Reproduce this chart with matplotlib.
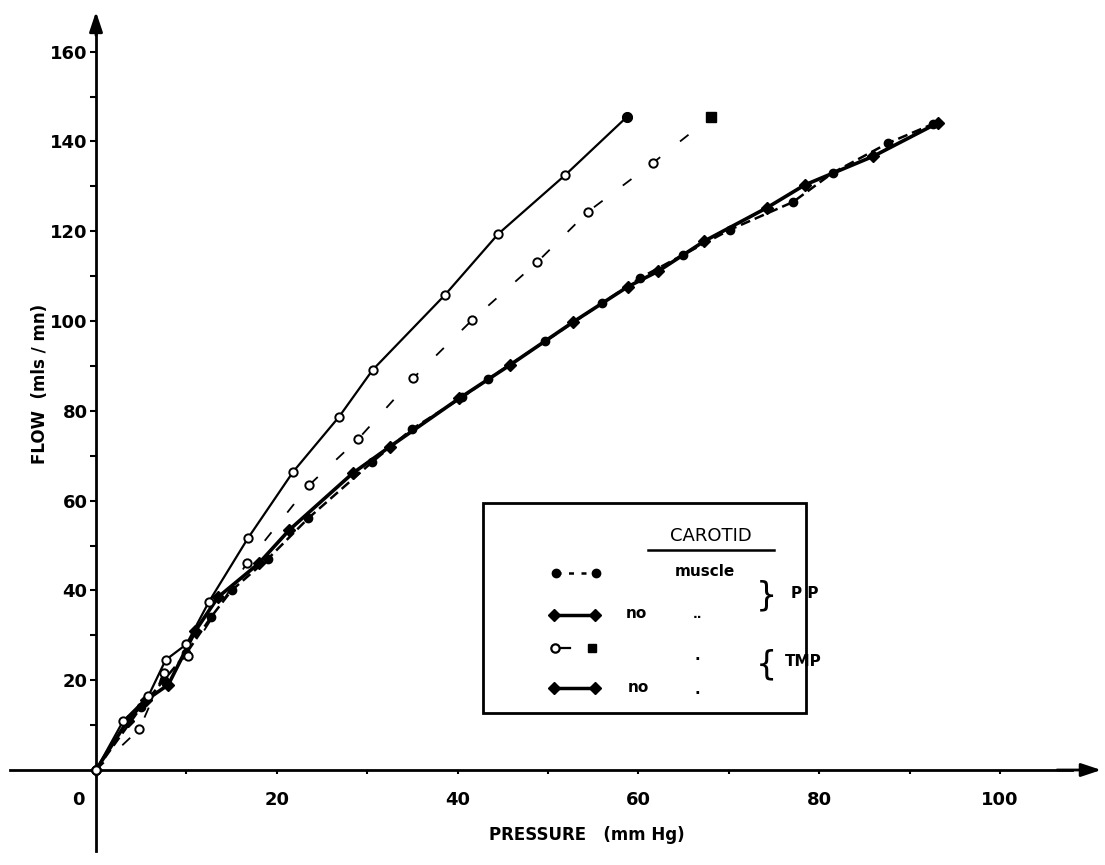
import matplotlib
matplotlib.use("Agg")
import matplotlib.pyplot as plt
from matplotlib.patches import Rectangle

# ---- data ----
# TMP, no muscle (top curve, solid, open circles)
top_x = [0, 3.0, 5.8, 7.7, 10.0, 12.5, 16.8, 21.8, 26.9, 30.6, 38.6, 44.5, 51.9, 58.7]
top_y = [0, 10.9, 16.5, 24.5, 28.0, 37.5, 51.6, 66.4, 78.7, 89.1, 105.8, 119.4, 132.5, 145.4]

# TMP, muscle (middle curve, dashed, open symbols)
mid_x = [0, 4.8, 7.5, 10.2, 16.7, 23.6, 29.0, 35.1, 41.6, 48.8, 54.4, 61.6, 68.0]
mid_y = [0, 9.1, 21.6, 25.5, 46.1, 63.5, 73.7, 87.3, 100.2, 113.1, 124.3, 135.2, 145.4]

# PP, no muscle (bottom curve, solid, filled diamonds)
ppno_x = [0, 3.5, 5.5, 8.0, 11.0, 13.5, 18.0, 21.4, 28.4, 32.5, 40.2, 45.8, 52.8,
          58.8, 62.2, 67.3, 74.2, 78.4, 86.0, 93.1]
ppno_y = [0, 11.0, 15.5, 19.0, 31.0, 38.5, 46.0, 53.5, 66.1, 72.0, 82.8, 90.2, 99.8,
          107.6, 111.1, 117.8, 125.2, 130.3, 136.7, 144.1]

# PP, muscle (bottom curve, dashed, filled circles)
ppmu_x = [0, 5.0, 7.5, 10.0, 12.7, 15.0, 19.0, 23.5, 30.5, 35.0, 40.5, 43.4, 49.7,
          56.0, 60.2, 64.9, 70.1, 77.1, 81.5, 87.6, 92.6]
ppmu_y = [0, 14.0, 20.0, 26.0, 34.0, 40.0, 47.0, 56.1, 68.5, 76.0, 83.0, 87.1, 95.5,
          104.0, 109.6, 114.7, 120.3, 126.5, 133.0, 139.6, 143.9]

x_ticks = [10, 20, 30, 40, 50, 60, 70, 80, 90, 100]
x_ticklabels = ["", "20", "", "40", "", "60", "", "80", "", "100"]
y_ticks = [10, 20, 30, 40, 50, 60, 70, 80, 90, 100, 110, 120, 130, 140, 150, 160]
y_ticklabels = ["", "20", "", "40", "", "60", "", "80", "", "100", "", "120", "", "140", "", "160"]

# ---- figure ----
W, H = 1105, 865
fig = plt.figure(figsize=(W / 100, H / 100), dpi=100)
ax = fig.add_axes([0, 0, 1, 1])
px_per_x = 9.04
px_per_y = 4.49
x0_px, y0_px = 96, 770
ax.set_xlim(-x0_px / px_per_x, (W - x0_px) / px_per_x)
ax.set_ylim(-(H - y0_px) / px_per_y, y0_px / px_per_y)

FONT = "DejaVu Sans"
fs = 13

# axes as spines through origin
for s in ["top", "right"]:
    ax.spines[s].set_visible(False)
ax.spines["left"].set_position(("data", 0))
ax.spines["bottom"].set_position(("data", 0))
ax.spines["left"].set_linewidth(2)
ax.spines["bottom"].set_linewidth(2)
ax.spines["left"].set_bounds(-18, 166)
ax.spines["bottom"].set_bounds(-9.5, 108)

ax.annotate("", xy=(111.5, 0), xytext=(106, 0),
            arrowprops=dict(arrowstyle="-|>,head_length=1.2,head_width=0.4", color="black", lw=2))
ax.annotate("", xy=(0, 169.5), xytext=(0, 163),
            arrowprops=dict(arrowstyle="-|>,head_length=1.2,head_width=0.4", color="black", lw=2))

ax.set_xticks(x_ticks)
ax.set_xticklabels(x_ticklabels, fontsize=fs, fontweight="bold", family=FONT)
ax.set_yticks(y_ticks)
ax.set_yticklabels(y_ticklabels, fontsize=fs, fontweight="bold", family=FONT)
ax.tick_params(axis="x", direction="out", length=3, width=1.5, pad=12)
ax.tick_params(axis="y", direction="out", length=4, width=1.5, pad=2)
ax.text(-2.0, -6.7, "0", ha="center", va="center", fontsize=fs, fontweight="bold", family=FONT)

ax.text(-6.2, 86, "FLOW  (mls / mn)", rotation=90, ha="center", va="center",
        fontsize=12, fontweight="bold", family=FONT)
ax.text(54.3, -14.5, "PRESSURE   (mm Hg)", ha="center", va="center",
        fontsize=12, fontweight="bold", family=FONT)

# ---- curves ----
ax.plot(ppno_x, ppno_y, color="black", lw=2.6, marker="D", ms=6, mfc="black", mec="black", zorder=3)
ax.plot(ppmu_x, ppmu_y, color="black", lw=1.8, ls=(0, (4, 2)), marker="o", ms=6,
        mfc="black", mec="black", zorder=3)
ax.plot(top_x, top_y, color="black", lw=1.6, marker="o", ms=6, mfc="white", mec="black",
        mew=1.4, zorder=4)
ax.plot(top_x[-1:], top_y[-1:], ls="none", marker="o", ms=7, mfc="black", mec="black", zorder=5)
ax.plot(mid_x, mid_y, color="black", lw=1.3, ls=(0, (6, 14)), marker="o", ms=6,
        mfc="white", mec="black", mew=1.4, zorder=4)
ax.plot(mid_x[-1:], mid_y[-1:], ls="none", marker="s", ms=7, mfc="black", mec="black", zorder=5)

# ---- legend (manual) ----
T = ax.transAxes
def fx(p):
    return p / W
def fy(p):
    return 1 - p / H

ax.add_patch(Rectangle((fx(483), fy(713)), fx(806) - fx(483), fy(503) - fy(713),
                       transform=T, fill=False, lw=2, ec="black", zorder=6))
ax.text(fx(711), fy(536), "CAROTID", transform=T, ha="center", va="center",
        fontsize=13, family=FONT, zorder=7)
ax.plot([fx(648), fx(774)], [fy(550), fy(550)], transform=T, color="black", lw=1.8, zorder=7)

# row 1: muscle PP (dashed, filled)
ax.plot([fx(556), fx(596)], [fy(573), fy(573)], transform=T, color="black", lw=1.8,
        ls=(0, (2, 3)), marker="o", ms=6, mfc="black", mec="black", zorder=7)
ax.text(fx(705), fy(572), "muscle", transform=T, ha="center", va="center", fontsize=11,
        fontweight="bold", family=FONT, zorder=7)
# row 2: no PP (solid, filled diamonds)
ax.plot([fx(554), fx(595)], [fy(615), fy(615)], transform=T, color="black", lw=2.5,
        marker="D", ms=6, mfc="black", mec="black", zorder=7)
ax.text(fx(636), fy(614), "no", transform=T, ha="center", va="center", fontsize=11,
        fontweight="bold", family=FONT, zorder=7)
ax.text(fx(698), fy(615), "..", transform=T, ha="center", va="center", fontsize=9,
        fontweight="bold", family=FONT, zorder=7)
# row 3: muscle TMP (open circle, dash, filled square)
ax.plot([fx(555), fx(570)], [fy(648), fy(648)], transform=T, color="black", lw=1.6, zorder=7)
ax.plot([fx(555)], [fy(648)], transform=T, ls="none", marker="o", ms=6, mfc="white",
        mec="black", mew=1.6, zorder=8)
ax.plot([fx(592)], [fy(648)], transform=T, ls="none", marker="s", ms=6, mfc="black",
        mec="black", zorder=8)
ax.text(fx(697), fy(655), ".", transform=T, ha="center", va="center", fontsize=11,
        fontweight="bold", family=FONT, zorder=7)
# row 4: no TMP (solid, filled diamonds)
ax.plot([fx(554), fx(595)], [fy(688), fy(688)], transform=T, color="black", lw=2.5,
        marker="D", ms=6, mfc="black", mec="black", zorder=7)
ax.text(fx(638), fy(688), "no", transform=T, ha="center", va="center", fontsize=11,
        fontweight="bold", family=FONT, zorder=7)
ax.text(fx(697), fy(690), ".", transform=T, ha="center", va="center", fontsize=11,
        fontweight="bold", family=FONT, zorder=7)

# braces and group labels
ax.text(fx(766), fy(596), "}", transform=T, ha="center", va="center", fontsize=24,
        family=FONT, zorder=7)
ax.text(fx(805), fy(594), "P P", transform=T, ha="center", va="center", fontsize=11,
        fontweight="bold", family=FONT, zorder=7)
ax.text(fx(766), fy(665), "{", transform=T, ha="center", va="center", fontsize=24,
        family=FONT, zorder=7)
ax.text(fx(803), fy(662), "TMP", transform=T, ha="center", va="center", fontsize=11,
        fontweight="bold", family=FONT, zorder=7)

fig.savefig("out.png", dpi=100)
